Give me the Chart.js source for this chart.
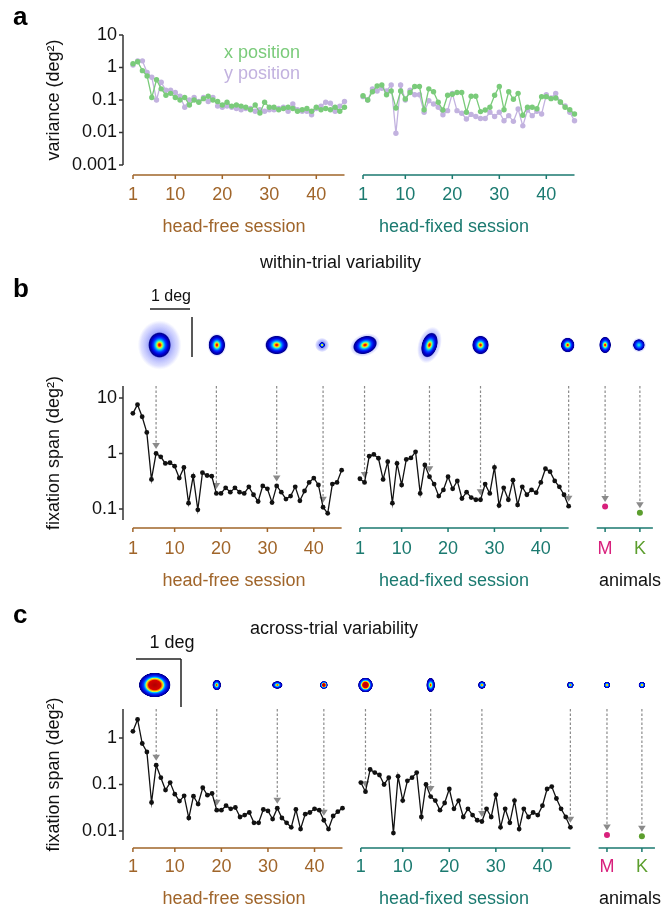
<!DOCTYPE html>
<html lang="en">
<head>
<meta charset="UTF-8">
<title>Fixation variability</title>
<script src="https://cdn.jsdelivr.net/npm/chart.js@4.4.1/dist/chart.umd.min.js"></script>
<style>
    body { margin: 0; background: #fff; }
    #wrap { position: relative; width: 664px; height: 915px; }
    canvas { position: absolute; left: 0; }
</style>
</head>
<body>
<div id="wrap">
    <canvas id="chartA" width="664" height="245" style="top:0px"></canvas>
    <canvas id="chartB" width="664" height="355" style="top:245px"></canvas>
    <canvas id="chartC" width="664" height="315" style="top:600px"></canvas>
</div>

<script>
// trial numbers in each session (same for head-free and head-fixed)
const trials = [1,2,3,4,5,6,7,8,9,10,11,12,13,14,15,16,17,18,19,20,21,22,23,
    24,25,26,27,28,29,30,31,32,33,34,35,36,37,38,39,40,41,42,43,44,45,46];
const sessionTicks = [1, 10, 20, 30, 40];

// panel a: variance of x / y eye position (deg^2)
const xFreeA = [1.3, 1.5, 0.8, 0.55, 0.12, 0.42, 0.22, 0.14, 0.16, 0.12, 0.1, 0.12, 0.07, 0.1, 0.085,
    0.11, 0.13, 0.1, 0.09, 0.07, 0.085, 0.065, 0.07, 0.065, 0.06, 0.05, 0.07, 0.04, 0.085, 0.06,
    0.06, 0.05, 0.055, 0.06, 0.055, 0.045, 0.05, 0.055, 0.045, 0.06, 0.05, 0.055, 0.05, 0.06, 0.045, 0.06];
const yFreeA = [1.2, 1.6, 1.6, 0.7, 0.5, 0.1, 0.35, 0.2, 0.2, 0.17, 0.13, 0.06, 0.1, 0.12, 0.09,
    0.12, 0.09, 0.12, 0.065, 0.06, 0.065, 0.06, 0.055, 0.05, 0.055, 0.055, 0.045, 0.05, 0.045, 0.05,
    0.05, 0.055, 0.06, 0.045, 0.075, 0.05, 0.045, 0.045, 0.035, 0.055, 0.065, 0.085, 0.08, 0.045, 0.065, 0.09];
const xFixA = [0.135, 0.1, 0.18, 0.27, 0.29, 0.145, 0.19, 0.057, 0.19, 0.107, 0.17, 0.26, 0.26, 0.05, 0.22,
    0.18, 0.085, 0.049, 0.14, 0.15, 0.17, 0.17, 0.042, 0.13, 0.13, 0.044, 0.049, 0.06, 0.14, 0.26,
    0.05, 0.18, 0.105, 0.16, 0.034, 0.06, 0.06, 0.054, 0.127, 0.127, 0.11, 0.115, 0.087, 0.06, 0.05, 0.037];
const yFixA = [0.127, 0.1, 0.22, 0.19, 0.23, 0.19, 0.29, 0.0095, 0.29, 0.1, 0.2, 0.145, 0.145, 0.042, 0.095,
    0.075, 0.06, 0.035, 0.047, 0.16, 0.047, 0.039, 0.026, 0.036, 0.031, 0.027, 0.027, 0.042, 0.031, 0.042,
    0.023, 0.033, 0.022, 0.053, 0.016, 0.049, 0.033, 0.045, 0.037, 0.145, 0.115, 0.16, 0.085, 0.066, 0.042, 0.023];

// panel b: within-trial fixation span (deg^2)
const freeB = [5.3, 7.6, 4.6, 2.4, 0.34, 1.0, 0.87, 0.66, 0.68, 0.59, 0.36, 0.56, 0.127, 0.39, 0.096,
    0.45, 0.40, 0.39, 0.19, 0.19, 0.24, 0.2, 0.24, 0.2, 0.19, 0.25, 0.18, 0.136, 0.26, 0.23,
    0.13, 0.26, 0.2, 0.15, 0.17, 0.25, 0.14, 0.21, 0.3, 0.36, 0.27, 0.107, 0.083, 0.28, 0.3, 0.5];
const fixB = [0.35, 0.30, 0.89, 0.96, 0.82, 0.34, 0.71, 0.127, 0.66, 0.27, 0.78, 0.83, 1.07, 0.19, 0.62,
    0.38, 0.28, 0.17, 0.22, 0.38, 0.23, 0.32, 0.154, 0.2, 0.16, 0.146, 0.146, 0.28, 0.19, 0.56,
    0.115, 0.24, 0.146, 0.33, 0.118, 0.25, 0.18, 0.22, 0.196, 0.30, 0.53, 0.47, 0.32, 0.25, 0.18, 0.112];

// panel c: across-trial fixation span (deg^2)
const freeC = [1.39, 2.5, 0.76, 0.5, 0.041, 0.26, 0.14, 0.076, 0.11, 0.062, 0.044, 0.057, 0.019, 0.056, 0.038,
    0.085, 0.059, 0.064, 0.028, 0.028, 0.035, 0.03, 0.032, 0.02, 0.022, 0.025, 0.015, 0.015, 0.029, 0.027,
    0.018, 0.031, 0.019, 0.015, 0.012, 0.029, 0.011, 0.023, 0.025, 0.03, 0.028, 0.017, 0.011, 0.021, 0.026, 0.031];
const fixC = [0.11, 0.07, 0.21, 0.18, 0.16, 0.1, 0.14, 0.009, 0.15, 0.045, 0.12, 0.14, 0.18, 0.02, 0.1,
    0.055, 0.045, 0.028, 0.04, 0.08, 0.03, 0.045, 0.02, 0.03, 0.022, 0.017, 0.016, 0.03, 0.02, 0.06,
    0.012, 0.03, 0.015, 0.045, 0.011, 0.03, 0.02, 0.025, 0.022, 0.035, 0.08, 0.09, 0.05, 0.03, 0.02, 0.012];

// animals
const animalNames = ['M', 'K'];
const animalB = [0.11, 0.085];
const animalC = [0.0082, 0.0077];

// trials whose fixation maps are shown above the plots
const arrowFree = [6, 19, 32, 42];
const arrowFix = [2, 16, 27, 46];

// y ticks
const yTicksA = [0.001, 0.01, 0.1, 1, 10];
const yTicksB = [0.1, 1, 10];
const yTicksC = [0.01, 0.1, 1];

// ---- layout / style ----
const FONT = '"Liberation Sans", Arial, sans-serif';
const BROWN = '#a0652a', TEAL = '#1b7a70', MAGENTA = '#d8207c', KGREEN = '#5c9e2e';
const GREEN = '#7acb7a', PURPLE = '#c2b2df', AXIS = '#333';
const FIX_OFF = 48.94;                 // head-fixed trials are shifted right on the shared x scale
const animalX = [102.8, 110.3];
const animalCol = [MAGENTA, KGREEN];
const X_MIN = -1.13, X_MAX = 113.13;

Chart.defaults.font.family = FONT;
Chart.defaults.font.size = 18;
Chart.defaults.color = '#111';

// fixation map thumbnails: [dx, rx, ry, rotation, halo, palette]
const thumbB = [
    [3.5, 11.5, 13, 0, 1.9, 'hot'], [0.5, 8.5, 10.5, 0, 1.15, 'hot'], [0, 11.5, 9.5, 0, 1.1, 'hot'],
    [-1, 3, 3, 0, 2.4, 'hot'], [0.5, 12.5, 9, -0.35, 1.25, 'hot'], [0, 8, 13, 0.3, 1.45, 'hot'],
    [0, 8.5, 9.5, 0, 1.1, 'hot'], [-1, 7, 7.5, 0, 1.1, 'hot'], [0, 6, 8.5, 0, 1.05, 'hot'],
    [-1, 6, 6, 0, 1.25, 'cool']
];
const thumbC = [
    [-1.5, 16, 12.5, 0, 1, 'block'], [0, 4.5, 5.5, 0, 1, 'hot'], [0, 5.5, 4, 0, 1, 'hot'],
    [0, 4, 4, 0, 1, 'block'], [0, 7.5, 7.5, 0, 1, 'block'], [0, 4.5, 7.5, 0, 1, 'hot'],
    [0, 4, 4, 0, 1, 'hot'], [0, 3.5, 3.5, 0, 1, 'hot'], [0, 3.5, 3.5, 0, 1, 'hot'],
    [0, 3.5, 3.5, 0, 1, 'hot']
];

const PALETTES = {
    hot: [[0, '#d00000'], [0.1, '#ff2a00'], [0.2, '#ffd800'], [0.3, '#50ffa8'], [0.4, '#00b0ff'],
          [0.55, '#0038ff'], [0.72, '#0000d8'], [0.9, '#000090'], [1, 'rgba(0,0,150,0)']],
    cool: [[0, '#40ffc0'], [0.25, '#00a8ff'], [0.5, '#0040ff'], [0.75, '#0000d0'], [0.9, '#000090'],
           [1, 'rgba(0,0,150,0)']],
    block: [[0, '#b00000'], [0.38, '#d80000'], [0.46, '#ff9000'], [0.54, '#e0ff30'], [0.6, '#00d0ff'],
            [0.7, '#0040ff'], [0.85, '#0000d0'], [0.96, '#00008a'], [1, 'rgba(0,0,140,0)']],
    halo: [[0, 'rgba(70,80,235,0.85)'], [0.55, 'rgba(115,125,250,0.6)'], [0.85, 'rgba(160,165,255,0.35)'],
           [1, 'rgba(180,185,255,0)']]
};

function ellipse(ctx, cx, cy, rx, ry, rot, stops) {
    ctx.save();
    ctx.translate(cx, cy);
    ctx.rotate(rot);
    ctx.scale(rx, ry);
    const g = ctx.createRadialGradient(0, 0, 0, 0, 0, 1);
    stops.forEach(s => g.addColorStop(s[0], s[1]));
    ctx.fillStyle = g;
    ctx.beginPath();
    ctx.arc(0, 0, 1, 0, Math.PI * 2);
    ctx.fill();
    ctx.restore();
}

function pts(vals, off) {
    return vals.map((v, i) => ({x: trials[i] + off, y: v}));
}

function series(vals, off, color, r) {
    return {
        data: pts(vals, off), borderColor: color, backgroundColor: color,
        borderWidth: 1.3, pointRadius: r, pointBorderWidth: 0, tension: 0
    };
}

function animalSet(vals) {
    return {
        data: vals.map((v, i) => ({x: animalX[i], y: v})), showLine: false,
        pointRadius: 3, pointBorderWidth: 0,
        pointBackgroundColor: animalCol, backgroundColor: animalCol, borderColor: animalCol
    };
}

function tickColor(v) {
    if (v < 47) return BROWN;
    if (v < 100) return TEAL;
    return animalCol[animalX.findIndex(a => Math.abs(a - v) < 1)];
}

function tickLabel(v) {
    if (v < 47) return String(Math.round(v));
    if (v < 100) return String(Math.round(v - FIX_OFF));
    return animalNames[animalX.findIndex(a => Math.abs(a - v) < 1)];
}

function options(o) {
    return {
        responsive: false,
        animation: false,
        devicePixelRatio: 1,
        layout: {padding: {top: o.padTop, left: 0, right: 4, bottom: 0}},
        plugins: {legend: {display: false}, tooltip: {enabled: false}},
        scales: {
            x: {
                type: 'linear', min: X_MIN, max: X_MAX,
                grid: {display: false, drawTicks: false},
                border: {display: false},
                afterFit: s => { s.height = o.xHeight; },
                afterBuildTicks: s => { s.ticks = o.xTicks.map(v => ({value: v})); },
                ticks: {
                    autoSkip: false, maxRotation: 0, padding: o.tickPad,
                    color: c => tickColor(c.tick.value),
                    callback: v => tickLabel(v)
                }
            },
            y: {
                type: 'logarithmic', min: o.yMin, max: o.yMax, position: 'left',
                grid: {display: false, drawTicks: false},
                border: {display: false},
                afterFit: s => { s.width = 123; },
                afterBuildTicks: s => { s.ticks = o.yTicks.map(v => ({value: v})); },
                ticks: {padding: 6, color: '#111', callback: v => String(v)},
                title: {display: true, text: o.title, color: '#111', padding: {top: 43, bottom: 0}}
            }
        }
    };
}

// axis lines, labels, arrows and fixation maps
function makeDeco(cfg) {
    return {
        id: 'deco',
        beforeDatasetsDraw(chart) {
            if (!cfg.arrows) return;
            const ctx = chart.ctx, xs = chart.scales.x, ys = chart.scales.y, area = chart.chartArea;
            ctx.save();
            cfg.arrows.forEach(a => {
                const px = xs.getPixelForValue(a.x), tip = ys.getPixelForValue(a.y) - 4.5;
                ctx.strokeStyle = '#8a8a8a';
                ctx.lineWidth = 1.2;
                ctx.setLineDash([2.5, 2]);
                ctx.beginPath();
                ctx.moveTo(px, area.top);
                ctx.lineTo(px, tip - 5);
                ctx.stroke();
                ctx.setLineDash([]);
                ctx.fillStyle = '#8a8a8a';
                ctx.beginPath();
                ctx.moveTo(px - 3.8, tip - 6);
                ctx.lineTo(px + 3.8, tip - 6);
                ctx.lineTo(px, tip);
                ctx.closePath();
                ctx.fill();
            });
            ctx.restore();
        },
        afterDraw(chart) {
            const ctx = chart.ctx, xs = chart.scales.x, ys = chart.scales.y, area = chart.chartArea;
            ctx.save();
            ctx.lineWidth = 1.5;
            ctx.strokeStyle = AXIS;
            ctx.beginPath();
            ctx.moveTo(area.left, area.top);
            ctx.lineTo(area.left, area.bottom);
            cfg.yTicks.forEach(v => {
                const p = ys.getPixelForValue(v);
                ctx.moveTo(area.left - 4, p);
                ctx.lineTo(area.left, p);
            });
            ctx.stroke();

            const ay = area.bottom + cfg.xGap;
            cfg.segments.forEach(s => {
                ctx.strokeStyle = s.color;
                ctx.beginPath();
                ctx.moveTo(xs.getPixelForValue(s.from), ay);
                ctx.lineTo(xs.getPixelForValue(s.to), ay);
                s.ticks.forEach(v => {
                    const p = xs.getPixelForValue(v);
                    ctx.moveTo(p, ay);
                    ctx.lineTo(p, ay + 4);
                });
                ctx.stroke();
            });

            // scale bars
            ctx.strokeStyle = '#222';
            ctx.lineWidth = 1.5;
            (cfg.lines || []).forEach(l => {
                ctx.beginPath();
                ctx.moveTo(l[0], l[1]);
                ctx.lineTo(l[2], l[3]);
                ctx.stroke();
            });

            // fixation maps
            if (cfg.thumbs) {
                const xsPos = arrowFree.concat(arrowFix.map(t => t + FIX_OFF), animalX);
                cfg.thumbs.forEach((t, i) => {
                    const cx = xs.getPixelForValue(xsPos[i]) + t[0];
                    if (t[4] > 1) ellipse(ctx, cx, cfg.thumbY, t[1] * t[4], t[2] * t[4], t[3], PALETTES.halo);
                    ellipse(ctx, cx, cfg.thumbY, t[1], t[2], t[3], PALETTES[t[5]]);
                });
            }

            ctx.textBaseline = 'alphabetic';
            cfg.texts.forEach(t => {
                ctx.font = (t.b ? 'bold ' : '') + t.s + 'px ' + FONT;
                ctx.fillStyle = t.c;
                ctx.textAlign = t.a;
                ctx.fillText(t.t, t.x, t.y);
            });
            ctx.restore();
        }
    };
}

const fixTicks = sessionTicks.map(t => t + FIX_OFF);
const segA = [
    {from: 1, to: 46, ticks: sessionTicks, color: BROWN},
    {from: 1 + FIX_OFF, to: 46 + FIX_OFF, ticks: fixTicks, color: TEAL}
];
const segBC = segA.concat([{from: 101, to: 113.1, ticks: animalX, color: TEAL}]);

function sessionTitles(y, withAnimals) {
    const list = [
        {t: 'head-free session', x: 234, y: y, c: BROWN, a: 'center', s: 18},
        {t: 'head-fixed session', x: 454, y: y, c: TEAL, a: 'center', s: 18}
    ];
    if (withAnimals) list.push({t: 'animals', x: 630, y: y, c: '#111', a: 'center', s: 18});
    return list;
}

function arrowsFor(free, fix, anim) {
    return arrowFree.map(t => ({x: t, y: free[t - 1]}))
        .concat(arrowFix.map(t => ({x: t + FIX_OFF, y: fix[t - 1]})))
        .concat(anim.map((v, i) => ({x: animalX[i], y: v})));
}

// ---- panel a ----
new Chart(document.getElementById('chartA'), {
    type: 'line',
    data: {datasets: [
        series(xFreeA, 0, GREEN, 2.7), series(xFixA, FIX_OFF, GREEN, 2.7),
        series(yFreeA, 0, PURPLE, 2.7), series(yFixA, FIX_OFF, PURPLE, 2.7)
    ]},
    options: options({padTop: 35, xHeight: 80, tickPad: 19, yMin: 0.001, yMax: 10,
        yTicks: yTicksA, xTicks: sessionTicks.concat(fixTicks), title: 'variance (deg²)'}),
    plugins: [makeDeco({
        yTicks: yTicksA, xGap: 10, segments: segA,
        texts: [
            {t: 'a', x: 13, y: 25, c: '#000', a: 'left', s: 26, b: true},
            {t: 'x position', x: 224, y: 58, c: GREEN, a: 'left', s: 18},
            {t: 'y position', x: 224, y: 79, c: PURPLE, a: 'left', s: 18}
        ].concat(sessionTitles(232, false))
    })]
});

// ---- panel b ----
new Chart(document.getElementById('chartB'), {
    type: 'line',
    data: {datasets: [
        series(freeB, 0, '#111', 2.4), series(fixB, FIX_OFF, '#111', 2.4), animalSet(animalB)
    ]},
    options: options({padTop: 141, xHeight: 80, tickPad: 18, yMin: 0.063, yMax: 16.5,
        yTicks: yTicksB, xTicks: sessionTicks.concat(fixTicks, animalX), title: 'fixation span (deg²)'}),
    plugins: [makeDeco({
        yTicks: yTicksB, xGap: 8, segments: segBC,
        arrows: arrowsFor(freeB, fixB, animalB),
        thumbs: thumbB, thumbY: 100,
        lines: [[150, 64, 190, 64], [192, 72, 192, 112]],
        texts: [
            {t: 'b', x: 13, y: 52, c: '#000', a: 'left', s: 26, b: true},
            {t: 'within-trial variability', x: 260, y: 23, c: '#111', a: 'left', s: 18},
            {t: '1 deg', x: 171, y: 56, c: '#111', a: 'center', s: 16}
        ].concat(sessionTitles(341, true))
    })]
});

// ---- panel c ----
new Chart(document.getElementById('chartC'), {
    type: 'line',
    data: {datasets: [
        series(freeC, 0, '#111', 2.4), series(fixC, FIX_OFF, '#111', 2.4), animalSet(animalC)
    ]},
    options: options({padTop: 109, xHeight: 75, tickPad: 16, yMin: 0.0064, yMax: 4.2,
        yTicks: yTicksC, xTicks: sessionTicks.concat(fixTicks, animalX), title: 'fixation span (deg²)'}),
    plugins: [makeDeco({
        yTicks: yTicksC, xGap: 8, segments: segBC,
        arrows: arrowsFor(freeC, fixC, animalC),
        thumbs: thumbC, thumbY: 85,
        lines: [[136, 59, 181, 59], [181, 59, 181, 107]],
        texts: [
            {t: 'c', x: 13, y: 23, c: '#000', a: 'left', s: 26, b: true},
            {t: 'across-trial variability', x: 250, y: 34, c: '#111', a: 'left', s: 18},
            {t: '1 deg', x: 172, y: 48, c: '#111', a: 'center', s: 18}
        ].concat(sessionTitles(304, true))
    })]
});
</script>
</body>
</html>
